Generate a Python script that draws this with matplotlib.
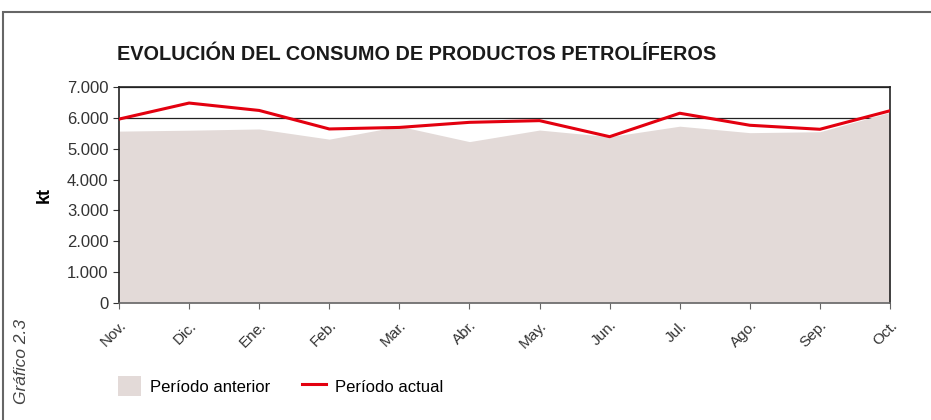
import matplotlib.pyplot as plt
from matplotlib.patches import Rectangle, Patch
from matplotlib.lines import Line2D
from matplotlib.ticker import FuncFormatter

meses = ["Nov.", "Dic.", "Ene.", "Feb.", "Mar.", "Abr.", "May.", "Jun.", "Jul.", "Ago.", "Sep.", "Oct."]
periodo_anterior = [5570, 5600, 5640, 5310, 5730, 5230, 5605, 5390, 5730, 5520, 5550, 6180]
periodo_actual = [5960, 6480, 6240, 5640, 5690, 5855, 5910, 5390, 6150, 5760, 5630, 6230]

plt.rcParams["font.family"] = ["Liberation Sans", "DejaVu Sans"]

W, H = 931, 420
fig = plt.figure(figsize=(W / 100, H / 100), dpi=100)

# marco exterior
fig.add_artist(Rectangle((3 / W, -0.1), 1.2, 1 - 12 / H + 0.1, transform=fig.transFigure,
                         fill=False, edgecolor="#666666", linewidth=1.5))

ax = fig.add_axes([119 / W, 1 - 303 / H, (890 - 119) / W, (303 - 87) / H])
x = list(range(len(meses)))
ax.fill_between(x, periodo_anterior, color="#e3dad8", linewidth=0, zorder=2)
ax.plot(x, periodo_actual, color="#e3000f", linewidth=2.2, zorder=3)

ax.set_xlim(0, len(meses) - 1)
ax.set_ylim(0, 7000)
ax.set_yticks(range(0, 7001, 1000))
ax.yaxis.set_major_formatter(FuncFormatter(lambda v, p: f"{int(v):,}".replace(",", ".")))
ax.grid(axis="y", color="#222222", linewidth=0.9, zorder=1)
ax.set_axisbelow(True)
ax.set_xticks(x)
ax.set_xticklabels(meses, rotation=45, ha="right", rotation_mode="anchor", fontsize=11, color="#333333")
ax.tick_params(axis="y", labelsize=12, labelcolor="#333333", length=4, color="#333333")
ax.tick_params(axis="x", length=4, color="#666666", pad=7)
for s in ["left", "top", "right"]:
    ax.spines[s].set_color("#222222")
    ax.spines[s].set_linewidth(1.2)
ax.spines["bottom"].set_color("#666666")
ax.spines["bottom"].set_linewidth(1.2)
ax.set_ylabel("kt", fontsize=13, fontweight="bold", labelpad=10)

fig.text(117 / W, 1 - 55 / H, "EVOLUCIÓN DEL CONSUMO DE PRODUCTOS PETROLÍFEROS",
         fontsize=14.3, fontweight="bold", color="#1a1a1a", va="center", ha="left")
fig.text(22 / W, 1 - 362 / H, "Gráfico 2.3", rotation=90, style="italic",
         fontsize=12.5, color="#444444", va="center", ha="center")

handles = [Patch(facecolor="#e3dad8", edgecolor="none"),
           Line2D([0], [0], color="#e3000f", linewidth=2.2)]
fig.legend(handles, ["Período anterior", "Período actual"], loc="center left",
           bbox_to_anchor=(118 / W, 1 - 386 / H), ncol=2, frameon=False, fontsize=12,
           handlelength=1.4, handleheight=1.5, columnspacing=1.9, handletextpad=0.55,
           borderaxespad=0, borderpad=0)

fig.savefig("out.png", dpi=100)
